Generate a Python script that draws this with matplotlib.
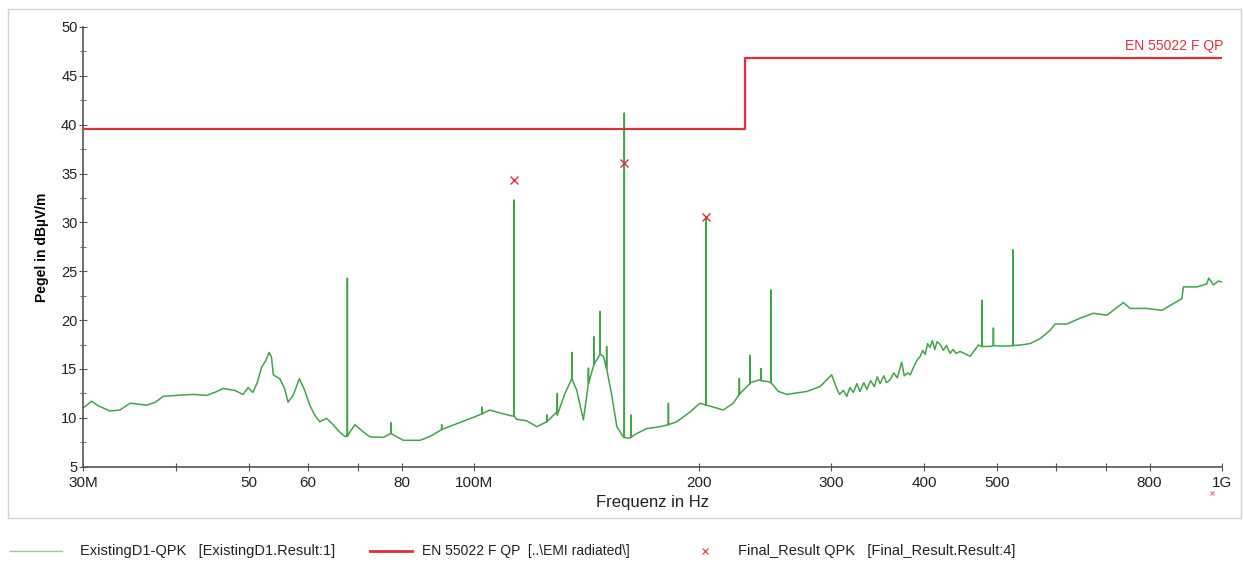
"""EMI radiated emission scan (30 MHz - 1 GHz) with EN 55022 limit and final QPK results."""

import matplotlib
matplotlib.use("Agg")
import matplotlib.pyplot as plt
from matplotlib.lines import Line2D
from matplotlib.patches import Rectangle
from matplotlib.ticker import FixedLocator, FixedFormatter, NullFormatter

plt.rcParams["font.family"] = ["Liberation Sans", "DejaVu Sans"]

# measured trace (baseline), MHz / dBuV/m
trace_mhz = [
    30.0, 30.8, 31.5, 32.6, 33.6, 34.7, 36.5, 37.5, 38.4, 40.0, 42.1, 43.9, 45.0,
    46.2, 47.9, 49.1, 49.9, 50.6, 51.3, 52.0, 52.7, 53.2, 53.6, 53.9, 55.0, 55.8,
    56.4, 57.3, 58.4, 59.3, 60.3, 61.2, 62.2, 63.5, 64.8, 66.0, 67.2, 68.3, 69.3,
    71.0, 72.6, 75.6, 77.4, 80.4, 84.7, 87.3, 90.5, 94.8, 99.8, 102.4, 105.0,
    108.3, 112.3, 114.0, 117.6, 121.3, 125.1, 129.0, 132.3, 135.1, 137.2, 140.0,
    142.2, 145.9, 148.9, 152.8, 155.2, 158.3, 160.8, 165.0, 170.2, 177.3, 186.6,
    194.4, 200.5, 206.8, 215.4, 222.1, 226.8, 233.9, 241.2, 247.4, 255.2, 261.9,
    278.5, 290.1, 300.7, 305.4, 308.0, 311.7, 315.0, 318.0, 321.4, 325.0, 328.0,
    332.0, 335.0, 339.0, 343.0, 346.0, 349.0, 353.0, 356.0, 360.0, 364.0, 368.0,
    373.0, 376.0, 380.0, 383.0, 387.0, 391.0, 395.0, 398.0, 401.0, 404.0, 407.0,
    410.0, 413.0, 416.0, 420.0, 424.0, 428.0, 433.0, 437.0, 441.0, 446.5, 460.5,
    472.4, 489.7, 502.4, 515.5, 537.1, 553.9, 571.2, 589.1, 598.2, 620.2, 646.1,
    673.0, 701.5, 738.3, 753.7, 793.4, 830.9, 852.4, 883.6, 888.0, 925.4, 954.3,
    960.0, 973.9, 989.0, 1000.0,
]
trace_db = [
    11.0, 11.7, 11.2, 10.7, 10.8, 11.5, 11.3, 11.6, 12.2, 12.3, 12.4, 12.3, 12.6,
    13.0, 12.8, 12.4, 13.1, 12.6, 13.6, 15.2, 15.9, 16.7, 16.2, 14.4, 14.0, 13.0,
    11.6, 12.3, 14.0, 12.9, 11.3, 10.3, 9.6, 9.95, 9.3, 8.6, 8.1, 8.6, 9.3,
    8.6, 8.05, 8.0, 8.4, 7.7, 7.7, 8.1, 8.8, 9.4, 10.05, 10.4, 10.8,
    10.5, 10.2, 9.85, 9.7, 9.1, 10.1, 10.6, 12.5, 14.05, 12.8, 9.8,
    13.9, 15.95, 16.3, 12.3, 9.1, 8.05, 7.9, 8.4, 8.9, 9.1, 9.6,
    10.6, 11.5, 11.2, 10.8, 11.5, 12.5, 13.6, 13.9, 13.7, 12.7, 12.4,
    12.7, 13.2, 14.4, 13.0, 12.4, 12.8, 12.2, 13.1, 12.6, 13.5, 12.7,
    13.6, 12.9, 13.8, 13.2, 14.2, 13.5, 14.3, 13.6, 13.9, 14.6, 14.1,
    15.7, 14.3, 14.6, 14.4, 15.2, 15.9, 16.3, 16.9, 16.5, 17.6, 17.2,
    17.9, 17.0, 17.8, 17.5, 16.9, 17.4, 16.6, 17.0, 16.6, 16.8, 16.3,
    17.45, 17.3, 17.35, 17.35, 17.45, 17.6, 18.1, 18.96, 19.6, 19.6, 20.2,
    20.7, 20.5, 21.8, 21.2, 21.2, 21.0, 21.5, 22.2, 23.4, 23.4, 23.7,
    24.3, 23.6, 24.0, 23.9,
]

# narrowband spikes: frequency, peak level, level at the foot of the spike
spike_mhz = [67.7, 77.4, 90.5, 102.4, 113.1, 125.1, 129.2, 135.1, 142.2, 144.7,
             147.4, 150.4, 158.8, 162.0, 181.9, 204.2, 226.3, 233.8, 242.0, 249.5,
             477.3, 494.7, 525.2]
spike_top_db = [24.3, 9.5, 9.3, 11.1, 32.3, 10.3, 12.5, 16.7, 15.1, 18.3,
                20.9, 17.3, 41.2, 10.3, 11.5, 30.3, 14.05, 16.4, 15.05, 23.1,
                22.05, 19.2, 27.2]
spike_base_db = [8.1, 8.4, 8.8, 10.4, 10.2, 9.6, 10.3, 14.0, 13.5, 15.5,
                 16.5, 15.0, 8.0, 8.0, 9.3, 11.3, 12.4, 13.5, 13.8, 13.6,
                 17.3, 17.4, 17.4]

# EN 55022 limit (step)
limit_mhz = [30, 230, 230, 1000]
limit_db = [39.6, 39.6, 46.8, 46.8]

# final QPK results
final_mhz = [113.1, 158.8, 204.2, 970.0]
final_db = [34.3, 36.1, 30.6, 2.3]

xtick_major = [30, 40, 50, 60, 70, 80, 100, 200, 300, 400, 500, 600, 700, 800, 1000]
xtick_labels = ["30M", "", "50", "60", "", "80", "100M", "200", "300", "400", "500",
                "", "", "800", "1G"]

# merge spikes into the trace so it is one polyline
pts = [(f, v) for f, v in zip(trace_mhz, trace_db)]
for f, top, base in zip(spike_mhz, spike_top_db, spike_base_db):
    pts += [(f - 1e-4 * f, base), (f, top), (f + 1e-4 * f, base)]
pts.sort(key=lambda p: p[0])
xs = [p[0] for p in pts]
ys = [p[1] for p in pts]

fig = plt.figure(figsize=(12.43, 5.64), dpi=100)
ax = fig.add_axes([83 / 1243, 1 - 466.7 / 564, (1222 - 83) / 1243, (466.7 - 27) / 564])

green = "#3fa64a"
red = "#e0303a"

ax.plot(xs, ys, color=green, lw=1.1, zorder=2)
ax.plot(limit_mhz, limit_db, color=red, lw=1.6, zorder=3)
ax.plot(final_mhz[:3], final_db[:3], ls="none", marker="x", ms=6, mew=1.0, color=red,
        zorder=4)
ax.plot(final_mhz[3:], final_db[3:], ls="none", marker="x", ms=3, mew=0.8, color="#f07080",
        zorder=4, clip_on=False)
ax.text(1005, 47.3, "EN 55022 F QP", color=red, fontsize=10, ha="right", va="bottom")

ax.set_xscale("log")
ax.set_xlim(30, 1000)
ax.set_ylim(5, 50)
ax.xaxis.set_major_locator(FixedLocator(xtick_major))
ax.xaxis.set_major_formatter(FixedFormatter(xtick_labels))
ax.xaxis.set_minor_formatter(NullFormatter())
ax.xaxis.set_minor_locator(FixedLocator([]))
ax.set_yticks(range(5, 51, 5))
ax.set_yticks([v + 2.5 for v in range(5, 50, 5)], minor=True)

for side in ("top", "right"):
    ax.spines[side].set_visible(False)
for side in ("left", "bottom"):
    ax.spines[side].set_color("#555555")
    ax.spines[side].set_linewidth(1.2)
ax.tick_params(axis="both", which="major", direction="inout", length=6,
               color="#555555", labelsize=11, labelcolor="#222222")
ax.tick_params(axis="y", which="major", labelsize=10.5, pad=1)
ax.tick_params(axis="y", which="minor", direction="inout", length=4, color="#555555")

ax.set_ylabel("Pegel in dBµV/m", fontsize=10, fontweight="bold", labelpad=9)
ax.set_xlabel("Frequenz in Hz", fontsize=12, labelpad=4, color="#222222")

# outer light frame
fig.patches.append(Rectangle((8 / 1243, 1 - 518 / 564), (1241 - 8) / 1243, (518 - 9) / 564,
                             transform=fig.transFigure, fill=False, ec="#d4d4d4", lw=1.0))

# legend row under the frame
ly = 1 - 551 / 564
fig.add_artist(Line2D([10 / 1243, 62 / 1243], [ly, ly], color="#8fcf8f", lw=1.0))
fig.text(80 / 1243, ly, "ExistingD1-QPK   [ExistingD1.Result:1]", fontsize=10.5,
         va="center", color="#222222")
fig.add_artist(Line2D([370 / 1243, 412 / 1243], [ly, ly], color=red, lw=2.0))
fig.text(422 / 1243, ly, "EN 55022 F QP  [..\\EMI radiated\\]", fontsize=10,
         va="center", color="#222222")
fig.add_artist(Line2D([705 / 1243], [ly], ls="none", marker="x", ms=5, mew=0.8, color=red))
fig.text(738 / 1243, ly, "Final_Result QPK   [Final_Result.Result:4]", fontsize=10.5,
         va="center", color="#222222")

fig.savefig("out.png", dpi=100)
